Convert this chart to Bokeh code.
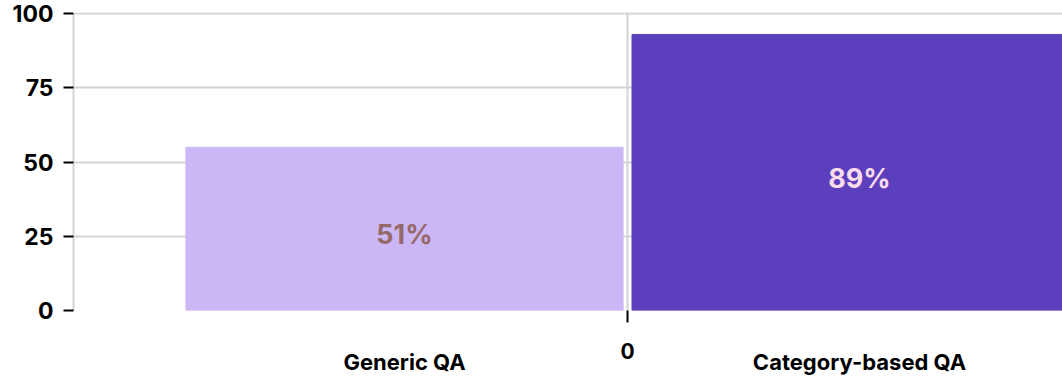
from bokeh.plotting import figure
from bokeh.models import Range1d, FixedTicker, ColumnDataSource, LinearAxis
from bokeh.core.properties import value
from bokeh.embed import file_html
from bokeh.resources import INLINE

# data
categories = ["Generic QA", "Category-based QA"]
bar_values = [55, 93]
pct_values = [51, 89]
pct_labels = ["51%", "89%"]
y_ticks = [0, 25, 50, 75, 100]
x_ticks = [0]

# layout
centers = [-0.5, 0.52]
widths = [0.98, 1.02]
bar_colors = ["#cbb7f5", "#5c3fbd"]
text_colors = ["#966868", "#fadcea"]

FONT = "Inter"

p = figure(width=1062, height=377, output_backend="svg", toolbar_location=None,
           x_range=Range1d(-1.242, 0.975), y_range=Range1d(0, 100.4),
           min_border_left=73, min_border_right=0, min_border_top=12, min_border_bottom=67)
p.outline_line_color = None

src = ColumnDataSource(dict(x=centers, w=widths, top=bar_values, color=bar_colors,
                            ty=[v / 2 for v in pct_values], label=pct_labels, tcolor=text_colors))
p.vbar(x="x", width="w", top="top", bottom=0, color="color", source=src)
p.text(x="x", y="ty", text="label", text_color="tcolor", source=src,
       text_align="center", text_baseline="middle",
       text_font=value(FONT), text_font_style="bold", text_font_size="27px")

# y axis
ya = p.yaxis[0]
ya.ticker = FixedTicker(ticks=y_ticks)
ya.bounds = (0, 100)
ya.axis_line_color = "#d4d4d4"
ya.axis_line_width = 2
ya.major_tick_line_color = "black"
ya.major_tick_line_width = 2
ya.major_tick_out = 10
ya.major_tick_in = 0
ya.minor_tick_line_color = None
ya.major_label_standoff = 10
ya.major_label_text_font = FONT
ya.major_label_text_font_style = "bold"
ya.major_label_text_font_size = "23px"
ya.major_label_text_color = "black"

# x axis: tick mark and label at 0
xa = p.xaxis[0]
xa.ticker = FixedTicker(ticks=x_ticks)
xa.axis_line_color = None
xa.major_tick_line_color = "black"
xa.major_tick_line_width = 2
xa.major_tick_out = 12
xa.major_tick_in = 0
xa.minor_tick_line_color = None
xa.major_label_standoff = 20
xa.major_label_text_font = FONT
xa.major_label_text_font_style = "bold"
xa.major_label_text_font_size = "21px"
xa.major_label_text_color = "black"

# second axis: category labels
overrides = {centers[0]: categories[0], centers[1]: categories[1]}
xb = LinearAxis(ticker=FixedTicker(ticks=centers), major_label_overrides=overrides)
xb.axis_line_color = None
xb.major_tick_line_color = None
xb.major_tick_out = 0
xb.major_tick_in = 0
xb.minor_tick_line_color = None
xb.major_label_standoff = -13
xb.major_label_text_font = FONT
xb.major_label_text_font_style = "bold"
xb.major_label_text_font_size = "22px"
xb.major_label_text_color = "black"
p.add_layout(xb, "below")

p.ygrid.grid_line_color = "#d4d4d4"
p.ygrid.grid_line_width = 2
p.xgrid.ticker = FixedTicker(ticks=x_ticks)
p.xgrid.grid_line_color = "#d4d4d4"
p.xgrid.grid_line_width = 2

open("out.html", "w").write(file_html(p, INLINE))
